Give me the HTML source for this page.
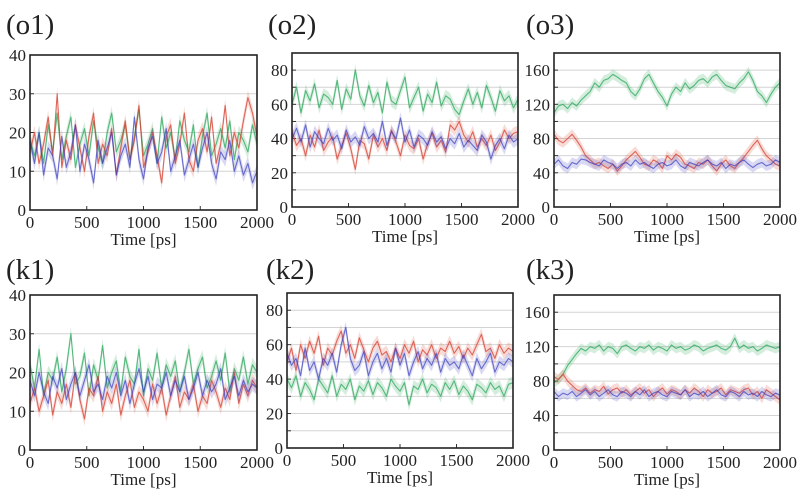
<!DOCTYPE html>
<html><head><meta charset="utf-8">
<style>
html,body{margin:0;padding:0;background:#fff;}
svg{display:block;font-family:"Liberation Serif",serif;}
</style></head>
<body>
<svg id="chart" width="800" height="498" viewBox="0 0 800 498" xmlns="http://www.w3.org/2000/svg"></svg>
<script>
const timeTicks = [0, 500, 1000, 1500, 2000];
const panelTitles = ["(o1)", "(o2)", "(o3)", "(k1)", "(k2)", "(k3)"];
const panelYMax = [40, 90, 180, 40, 90, 180];
const panelYLabelStep = [10, 20, 40, 10, 20, 40];
const panelGridStep = [10, 10, 20, 10, 10, 20];

const o1Green = [18,14,20,12,22,15,25,13,19,24,11,17,21,14,23,16,12,20,25,15,18,22,13,19,26,14,17,21,12,24,16,20,13,23,18,15,22,11,19,25,14,17,21,16,23,13,20,18,15,22,17];
const o1Red = [15,20,12,17,24,14,30,11,18,13,22,16,10,19,25,12,17,14,21,9,16,23,13,18,27,11,15,20,14,7,19,22,12,17,25,13,10,18,21,15,24,12,17,27,14,20,16,23,29,25,19];
const o1Blue = [18,12,20,9,16,14,8,19,11,15,22,10,17,13,7,18,12,16,20,9,14,17,11,24,13,8,16,19,12,15,21,10,14,18,9,13,17,11,16,20,12,8,15,13,18,10,14,9,12,7,10];

const o2Green = [60,70,55,68,62,72,58,66,64,60,74,57,69,63,80,65,59,71,61,67,55,73,62,60,68,76,58,64,70,56,66,61,73,59,65,63,57,54,62,69,60,67,58,71,64,56,68,62,65,58,63];
const o2Red = [44,36,40,30,42,35,45,33,38,41,28,36,43,34,22,39,37,28,42,35,40,33,45,38,30,42,36,34,40,28,37,43,35,39,32,48,45,50,42,38,44,35,40,36,42,33,38,45,40,43,44];
const o2Blue = [40,46,38,48,35,44,40,37,46,39,42,34,45,38,41,36,47,40,43,38,50,36,44,40,52,38,45,35,42,40,36,44,38,41,34,40,37,43,35,39,36,33,42,38,28,36,40,34,42,38,40];

const o3Green = [110,118,120,115,122,118,125,130,135,145,140,148,150,155,152,148,145,135,130,138,150,155,145,135,128,118,132,140,135,145,138,142,148,150,145,152,155,148,142,140,138,145,150,158,148,135,130,122,132,140,145];
const o3Red = [85,78,75,80,85,78,70,60,55,50,52,48,45,50,42,48,55,60,65,58,50,48,55,52,45,60,55,62,58,50,48,45,52,50,55,48,42,50,55,48,45,52,58,65,72,78,68,60,55,50,48];
const o3Blue = [50,55,48,45,52,50,56,55,52,50,48,55,52,50,45,50,52,48,55,50,52,48,45,50,52,48,50,55,48,45,52,50,48,52,55,50,48,52,45,50,48,52,55,50,46,50,52,48,50,55,52];

const k1Green = [22,16,26,14,20,18,24,15,21,30,17,19,25,14,22,18,27,16,20,23,15,24,19,17,26,14,21,18,25,16,22,19,23,15,20,26,17,21,24,16,19,23,18,25,15,21,18,24,17,22,20];
const k1Red = [12,16,10,14,18,9,15,12,17,11,20,13,8,16,14,19,10,15,12,17,9,14,18,11,15,13,10,17,12,16,9,14,19,11,15,13,17,10,14,12,18,15,11,16,13,20,12,17,14,18,16];
const k1Blue = [18,14,20,15,12,19,16,21,13,17,20,14,18,22,15,17,13,19,16,20,14,18,12,17,21,15,19,13,17,16,20,14,18,15,19,13,16,20,14,18,15,17,21,13,16,19,14,18,15,17,16];

const k2Green = [40,35,42,30,38,34,28,40,36,32,42,30,37,34,40,28,36,33,39,31,38,35,30,40,36,33,38,25,36,34,40,32,37,35,30,38,34,39,31,36,33,28,37,35,32,38,34,36,30,37,38];
const k2Red = [50,58,45,60,52,62,55,65,48,58,54,62,68,55,60,52,64,57,50,58,62,54,56,50,58,52,60,55,62,50,57,54,60,52,58,56,62,55,59,52,58,54,60,66,56,58,52,60,55,58,56];
const k2Blue = [55,48,52,42,58,45,50,40,52,48,55,44,60,70,52,45,48,56,42,50,55,46,52,44,58,48,55,42,50,56,46,52,48,55,44,52,48,50,46,54,48,42,52,46,50,55,44,50,48,52,50];

const k3Green = [78,82,88,98,105,112,118,115,120,118,122,115,120,118,112,120,122,118,115,120,118,122,116,120,118,115,122,118,120,116,118,122,120,115,118,120,122,118,116,120,130,118,122,118,120,115,118,122,120,118,120];
const k3Red = [85,82,88,80,75,70,68,72,66,70,68,74,65,70,72,66,70,64,68,72,66,70,62,68,72,65,70,68,64,70,66,72,68,62,70,66,68,72,64,70,68,66,70,72,64,68,60,70,66,62,58];
const k3Blue = [68,62,66,64,68,62,66,70,64,68,62,66,70,64,62,68,66,62,68,64,70,62,66,68,64,62,68,66,64,70,62,66,64,68,62,66,70,64,62,68,66,62,68,64,66,62,68,64,62,66,64];

const panelGreen = [o1Green, o2Green, o3Green, k1Green, k2Green, k3Green];
const panelRed = [o1Red, o2Red, o3Red, k1Red, k2Red, k3Red];
const panelBlue = [o1Blue, o2Blue, o3Blue, k1Blue, k2Blue, k3Blue];

// layout (not data)
const boxes = [
  {x0:30,x1:257,y0:55,y1:210,tx:6,ty:34,band:14},
  {x0:292,x1:518,y0:53,y1:207,tx:268,ty:34,band:12},
  {x0:554,x1:780,y0:53,y1:207,tx:526,ty:34,band:10},
  {x0:30,x1:257,y0:295,y1:450,tx:6,ty:279,band:14},
  {x0:287,x1:513,y0:293,y1:448,tx:266,ty:279,band:12},
  {x0:554,x1:780,y0:295,y1:450,tx:526,ty:279,band:10}
];
const svg = document.getElementById('chart');
const NS = 'http://www.w3.org/2000/svg';
function mk(tag, attrs, parent){
  const e = document.createElementNS(NS, tag);
  for (const k in attrs) e.setAttribute(k, attrs[k]);
  (parent||svg).appendChild(e);
  return e;
}
const seriesColors = ['rgba(40,165,90,0.75)','rgba(215,60,45,0.75)','rgba(55,60,190,0.7)'];
const bandColors = ['rgba(60,175,100,0.22)','rgba(225,90,70,0.22)','rgba(80,80,200,0.22)'];
const seriesNames = ['green','red','blue'];

boxes.forEach((b, p) => {
  const g = mk('g', {});
  
  
  const ymax = panelYMax[p];
  const xs = t => b.x0 + (t/2000)*(b.x1-b.x0);
  const ys = v => b.y1 - (v/ymax)*(b.y1-b.y0);

  const title = mk('text', {x:b.tx, y:b.ty, 'font-size':29, fill:'#222'}, g);
  title.textContent = panelTitles[p];
  
  

  for (let v = panelGridStep[p]; v < ymax; v += panelGridStep[p]) {
    const gl = mk('line', {x1:b.x0, x2:b.x1, y1:ys(v), y2:ys(v), stroke:'#d4d4d4', 'stroke-width':1}, g);
    
    
    mk('line', {x1:b.x0, x2:b.x0+4, y1:ys(v), y2:ys(v), stroke:'#333', 'stroke-width':1}, g);
  }
  for (let v = 0; v <= ymax; v += panelYLabelStep[p]) {
    const t = mk('text', {x:b.x0-4, y:ys(v)+6, 'font-size':17, 'text-anchor':'end', fill:'#222'}, g);
    t.textContent = v;
    
    
  }
  timeTicks.forEach(tk => {
    const t = mk('text', {x:xs(tk), y:b.y1+18, 'font-size':17, 'text-anchor':'middle', fill:'#222'}, g);
    t.textContent = tk;
    
    
    mk('line', {x1:xs(tk), x2:xs(tk), y1:b.y1, y2:b.y1-4, stroke:'#333', 'stroke-width':1}, g);
  });
  const xt = mk('text', {x:(b.x0+b.x1)/2, y:b.y1+35, 'font-size':17, 'text-anchor':'middle', fill:'#222'}, g);
  xt.textContent = 'Time [ps]';
  
  

  [panelGreen[p], panelRed[p], panelBlue[p]].forEach((arr, si) => {
    const n = arr.length;
    const px = arr.map((v, i) => xs(i*2000/(n-1)));
    const py = arr.map(v => ys(v));
    const h = b.band/2;
    const upper = px.map((x, i) => x.toFixed(1) + ',' + Math.max(b.y0, py[i]-h).toFixed(1));
    const lower = px.map((x, i) => x.toFixed(1) + ',' + Math.min(b.y1, py[i]+h).toFixed(1)).reverse();
    const band = mk('polygon', {points:upper.concat(lower).join(' '), fill:bandColors[si], stroke:'none'}, g);
    
    
    const pts = px.map((x, i) => x.toFixed(1) + ',' + py[i].toFixed(1)).join(' ');
    const pl = mk('polyline', {points:pts, fill:'none', stroke:seriesColors[si], 'stroke-width':1.1, 'stroke-linejoin':'round'}, g);
    
    
  });

  const fr = mk('rect', {x:b.x0, y:b.y0, width:b.x1-b.x0, height:b.y1-b.y0, fill:'none', stroke:'#222', 'stroke-width':1.6}, g);
  
  
});
</script>
</body></html>
